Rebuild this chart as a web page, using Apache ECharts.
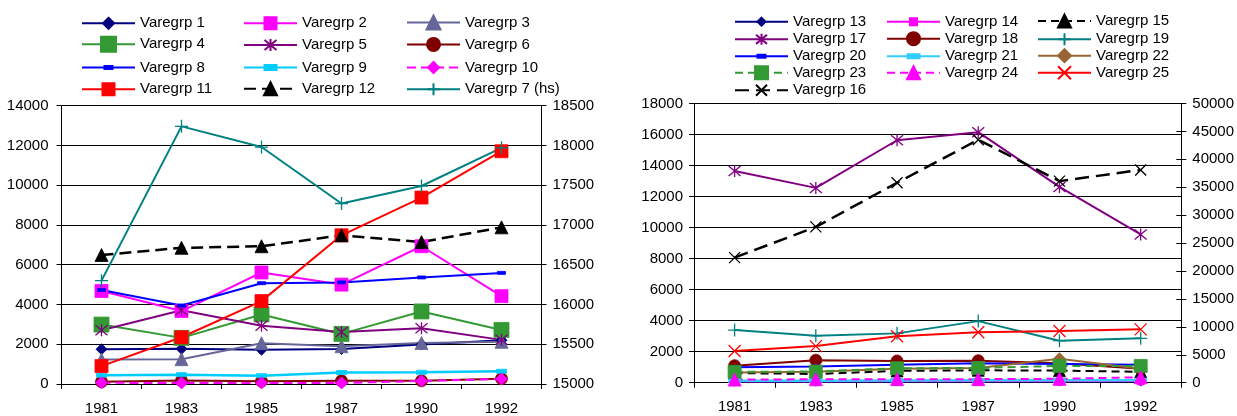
<!DOCTYPE html>
<html>
<head>
<meta charset="utf-8">
<script src="https://cdn.jsdelivr.net/npm/echarts@6/dist/echarts.min.js"></script>
<style>
  html, body { margin: 0; padding: 0; background: #fff; }
  #chart { width: 1237px; height: 416px; }
</style>
</head>
<body>
<div id="chart"></div>
<script>
// ---- data ----------------------------------------------------------------
const years = ['1981', '1983', '1985', '1987', '1990', '1992'];

// left panel (primary axis)
const vg1  = [1750, 1770, 1720, 1760, 1990, 2200];
const vg2  = [4680, 3670, 5610, 5000, 6930, 4420];
const vg3  = [1230, 1250, 2050, 1900, 2060, 2120];
const vg4  = [2990, 2320, 3500, 2520, 3650, 2720];
const vg5  = [2700, 3710, 2930, 2610, 2810, 2220];
const vg6  = [110, 170, 140, 160, 160, 270];
const vg8  = [4730, 3950, 5070, 5110, 5360, 5590];
const vg9  = [440, 470, 420, 580, 590, 640];
const vg10 = [60, 50, 50, 50, 150, 250];
const vg11 = [900, 2350, 4170, 7480, 9380, 11710];
const vg12 = [6490, 6850, 6930, 7480, 7140, 7880];
// left panel (secondary axis, "hs")
const vg7  = [16300, 18240, 17980, 17270, 17490, 17970];

// right panel (primary axis)
const vg13 = [30, 30, 40, 40, 40, 40];
const vg14 = [60, 60, 70, 70, 70, 80];
const vg15 = [620, 560, 760, 800, 780, 700];
const vg17 = [13650, 12560, 15630, 16150, 12620, 9560];
const vg18 = [1100, 1450, 1400, 1420, 1250, 900];
const vg19 = [3390, 3030, 3180, 3970, 2710, 2860];
const vg20 = [1000, 1050, 1150, 1250, 1200, 1150];
const vg21 = [130, 130, 140, 150, 150, 150];
const vg22 = [650, 700, 900, 950, 1550, 900];
const vg23 = [700, 720, 930, 950, 1080, 1080];
const vg24 = [200, 220, 230, 230, 250, 350];
const vg25 = [2040, 2360, 2990, 3250, 3330, 3440];
// right panel (secondary axis)
const vg16 = [22400, 27900, 35800, 43500, 36100, 38100];

// ---- styling helpers -------------------------------------------------------
const FONT = "'Liberation Sans', Arial, sans-serif";
const FONT_SIZE = 15;

// stroked marker shapes
const STAR  = 'path://M0,0L10,10M10,0L0,10M5,-1L5,11';
const PLUS  = 'path://M5,0L5,10M0,5L10,5';
const CROSS = 'path://M0,0L10,10M10,0L0,10';

// short horizontal bar, padded to a square box so it keeps its shape in the legend
function dashPath(w, h) {
  const top = (w - h) / 2;
  return 'path://M0,0M' + w + ',' + w + 'M0,' + top + 'L' + w + ',' + top + 'L' + w + ',' + (top + h) + 'L0,' + (top + h) + 'Z';
}

function line(name, data, color, opt) {
  return {
    type: 'line',
    name: name,
    data: data,
    xAxisIndex: opt.x,
    yAxisIndex: opt.y,
    symbol: opt.symbol,
    symbolSize: opt.size,
    showSymbol: true,
    showAllSymbol: true,
    lineStyle: { color: color, width: opt.width || 2, type: opt.dash || 'solid' },
    itemStyle: {
      color: opt.stroked ? 'rgba(0,0,0,0)' : color,
      borderColor: color,
      borderWidth: opt.stroked ? 1.3 : 0.8
    },
    emphasis: { disabled: true },
    z: opt.z || 2
  };
}

const series = [
  line('Varegrp 1',  vg1,  '#000080', { x: 0, y: 0, symbol: 'diamond', size: 11 }),
  line('Varegrp 2',  vg2,  '#FF00FF', { x: 0, y: 0, symbol: 'rect', size: 13 }),
  line('Varegrp 3',  vg3,  '#666699', { x: 0, y: 0, symbol: 'triangle', size: 13 }),
  line('Varegrp 4',  vg4,  '#339933', { x: 0, y: 0, symbol: 'rect', size: 15 }),
  line('Varegrp 5',  vg5,  '#800080', { x: 0, y: 0, symbol: STAR, size: 12, stroked: true }),
  line('Varegrp 6',  vg6,  '#800000', { x: 0, y: 0, symbol: 'circle', size: 12 }),
  line('Varegrp 8',  vg8,  '#0000FF', { x: 0, y: 0, symbol: dashPath(8, 3), size: 8 }),
  line('Varegrp 9',  vg9,  '#00CCFF', { x: 0, y: 0, symbol: dashPath(10, 4), size: 10, width: 2.5 }),
  line('Varegrp 10', vg10, '#FF00FF', { x: 0, y: 0, symbol: 'diamond', size: 12, dash: [9, 5] }),
  line('Varegrp 11', vg11, '#FF0000', { x: 0, y: 0, symbol: 'rect', size: 13 }),
  line('Varegrp 12', vg12, '#000000', { x: 0, y: 0, symbol: 'triangle', size: 13, dash: [12, 6], width: 2.5 }),
  line('Varegrp 7 (hs)', vg7, '#008080', { x: 0, y: 1, symbol: PLUS, size: 13, stroked: true }),

  line('Varegrp 13', vg13, '#000080', { x: 1, y: 2, symbol: 'diamond', size: 8, width: 1 }),
  line('Varegrp 14', vg14, '#FF00FF', { x: 1, y: 2, symbol: 'rect', size: 7, width: 1 }),
  line('Varegrp 15', vg15, '#000000', { x: 1, y: 2, symbol: 'triangle', size: 12, dash: [8, 5] }),
  line('Varegrp 17', vg17, '#800080', { x: 1, y: 2, symbol: STAR, size: 12, stroked: true }),
  line('Varegrp 18', vg18, '#800000', { x: 1, y: 2, symbol: 'circle', size: 12 }),
  line('Varegrp 19', vg19, '#008080', { x: 1, y: 2, symbol: PLUS, size: 13, stroked: true }),
  line('Varegrp 20', vg20, '#0000FF', { x: 1, y: 2, symbol: dashPath(8, 3), size: 8 }),
  line('Varegrp 21', vg21, '#33CCFF', { x: 1, y: 2, symbol: dashPath(12, 4), size: 12, width: 2.5 }),
  line('Varegrp 22', vg22, '#996633', { x: 1, y: 2, symbol: 'diamond', size: 12 }),
  line('Varegrp 23', vg23, '#339933', { x: 1, y: 2, symbol: 'rect', size: 13, dash: [8, 5] }),
  line('Varegrp 24', vg24, '#FF00FF', { x: 1, y: 2, symbol: 'triangle', size: 13, dash: [8, 5] }),
  line('Varegrp 25', vg25, '#FF0000', { x: 1, y: 2, symbol: CROSS, size: 12, stroked: true }),
  line('Varegrp 16', vg16, '#000000', { x: 1, y: 3, symbol: CROSS, size: 11, stroked: true, dash: [14, 7], width: 2.5 })
];

// ---- legend layout: one block per entry ------------------------------------
const leftCols = [81, 243, 406];
const leftRows = [23.3, 45, 67.5, 89.3];
const leftGrid = [
  ['Varegrp 1', 'Varegrp 2', 'Varegrp 3'],
  ['Varegrp 4', 'Varegrp 5', 'Varegrp 6'],
  ['Varegrp 8', 'Varegrp 9', 'Varegrp 10'],
  ['Varegrp 11', 'Varegrp 12', 'Varegrp 7 (hs)']
];
const rightCols = [734, 886, 1037];
const rightRows = [21.7, 39.3, 56.3, 73.3, 90.3];
const rightGrid = [
  ['Varegrp 13', 'Varegrp 14', 'Varegrp 15'],
  ['Varegrp 17', 'Varegrp 18', 'Varegrp 19'],
  ['Varegrp 20', 'Varegrp 21', 'Varegrp 22'],
  ['Varegrp 23', 'Varegrp 24', 'Varegrp 25'],
  ['Varegrp 16']
];
const legendSymbol = {
  'Varegrp 1': 11, 'Varegrp 2': 12, 'Varegrp 3': 14, 'Varegrp 4': 15, 'Varegrp 5': 12,
  'Varegrp 6': 13, 'Varegrp 8': 8, 'Varegrp 9': 12, 'Varegrp 10': 11, 'Varegrp 11': 12,
  'Varegrp 12': 13, 'Varegrp 7 (hs)': 12,
  'Varegrp 13': 8, 'Varegrp 14': 7, 'Varegrp 15': 13, 'Varegrp 17': 11, 'Varegrp 18': 13,
  'Varegrp 19': 12, 'Varegrp 20': 8, 'Varegrp 21': 12, 'Varegrp 22': 13, 'Varegrp 23': 13,
  'Varegrp 24': 13, 'Varegrp 25': 13, 'Varegrp 16': 11
};

function legendBlock(name, x, cy) {
  const h = legendSymbol[name] / 0.8;
  return {
    data: [name],
    left: x,
    top: cy - Math.max(h, 15) / 2,
    orient: 'horizontal',
    padding: 0,
    itemGap: 0,
    itemWidth: 53,
    itemHeight: h,
    textStyle: { fontFamily: FONT, fontSize: FONT_SIZE, color: '#000', lineHeight: 15 }
  };
}

const legends = [];
leftGrid.forEach((row, r) => row.forEach((n, c) => legends.push(legendBlock(n, leftCols[c], leftRows[r]))));
rightGrid.forEach((row, r) => row.forEach((n, c) => legends.push(legendBlock(n, rightCols[c], rightRows[r]))));

// ---- axes ------------------------------------------------------------------
const labelStyle = { fontFamily: FONT, fontSize: FONT_SIZE, color: '#000', formatter: v => String(v) };
const blackLine = { show: true, lineStyle: { color: '#000', width: 1 } };

function catAxis(gridIndex) {
  return {
    type: 'category', gridIndex: gridIndex, data: years, boundaryGap: true,
    axisLine: blackLine,
    axisTick: { show: true, length: 5, alignWithLabel: false, lineStyle: { color: '#000' } },
    axisLabel: { fontFamily: FONT, fontSize: FONT_SIZE, color: '#000', margin: 17, interval: 0 },
    splitLine: { show: false }
  };
}
function valAxis(gridIndex, pos, min, max, interval, margin, grid, tickInside) {
  return {
    type: 'value', gridIndex: gridIndex, position: pos, min: min, max: max, interval: interval,
    axisLine: blackLine,
    axisTick: { show: true, length: 5, inside: !!tickInside, lineStyle: { color: '#000' } },
    axisLabel: Object.assign({ margin: margin, show: !tickInside }, labelStyle),
    splitLine: { show: grid, lineStyle: { color: '#000', width: 1 } }
  };
}

const option = {
  animation: false,
  backgroundColor: '#fff',
  textStyle: { fontFamily: FONT },
  legend: legends,
  grid: [
    { left: 61.5, right: 695.5, top: 105.7, bottom: 30.3, containLabel: false },
    { left: 694, right: 52, top: 103.5, bottom: 33.3, containLabel: false }
  ],
  xAxis: [catAxis(0), catAxis(1)],
  yAxis: [
    valAxis(0, 'left', 0, 14000, 2000, 13, true),
    valAxis(0, 'right', 15000, 18500, 500, 11, false),
    valAxis(1, 'left', 0, 18000, 2000, 11, true),
    valAxis(1, 'right', 0, 50000, 5000, 11, false),
    valAxis(1, 'right', 0, 50000, 5000, 11, false, true)
  ],
  series: series
};

const chart = echarts.init(document.getElementById('chart'), null, { renderer: 'canvas' });
chart.setOption(option);
</script>
</body>
</html>
